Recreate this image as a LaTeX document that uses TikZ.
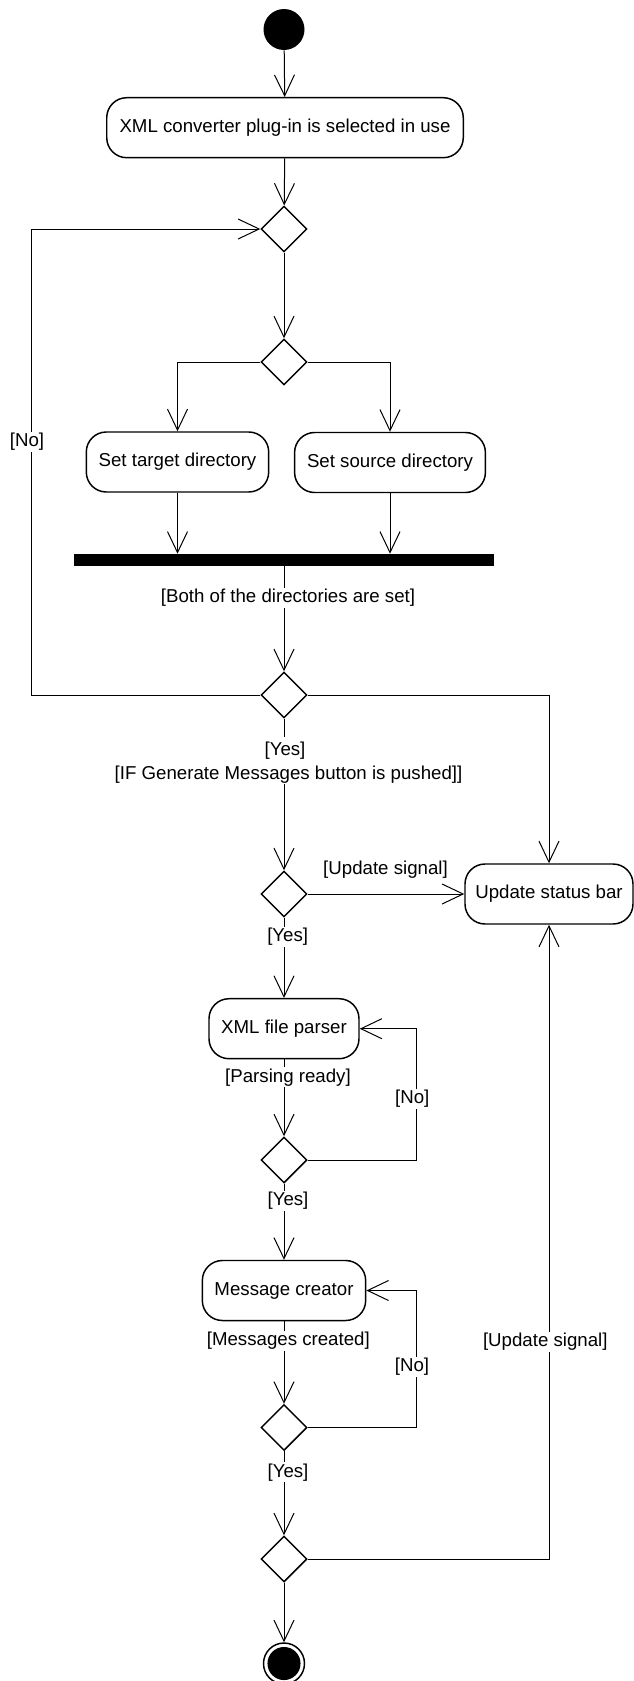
\documentclass[tikz,border=0pt]{standalone}
\usepackage{fontspec}
\setmainfont{Liberation Sans}
\usetikzlibrary{arrows.meta,shapes.geometric}

\begin{document}
\begin{tikzpicture}[x=0.75pt,y=-0.75pt,
  font=\fontsize{14}{16}\selectfont,
  flow/.style={line width=0.75pt},
  arr/.style={flow,-{Straight Barb[length=15.75pt,width=15pt,line width=0.75pt]}},
  act/.style={draw,line width=1.1pt,rounded corners=15pt,minimum height=45pt,inner sep=0pt,align=center},
  dec/.style={draw,diamond,aspect=1,minimum size=34.5pt,inner sep=0pt,line width=1.1pt},
  guard/.style={fill=white,inner sep=1pt},
]
\useasboundingbox (0,0) rectangle (634,1681);

% activity nodes
\node[circle,fill=black,minimum size=30.75pt,inner sep=0pt] (start) at (284,29.5) {};
\node[act,minimum width=267.4pt] (sel) at (285,127.7) {XML converter plug-in is selected in use};
\node[dec] (d1) at (284,229) {};
\node[dec] (d2) at (284,362) {};
\node[act,minimum width=136.8pt] (tgt) at (177.5,462) {Set target directory};
\node[act,minimum width=143.1pt] (src) at (390,462.5) {Set source directory};
\node[fill=black,minimum width=315.4pt,minimum height=9pt,inner sep=0pt] (bar) at (284,560) {};
\node[dec] (d3) at (284,695) {};
\node[act,minimum width=126pt] (stat) at (549,894) {Update status bar};
\node[dec] (d4) at (284,894) {};
\node[act,minimum width=112.5pt] (parse) at (284,1028.7) {XML file parser};
\node[dec] (d5) at (284,1160) {};
\node[act,minimum width=122.5pt] (create) at (284,1290.5) {Message creator};
\node[dec] (d6) at (284,1427.5) {};
\node[dec] (d7) at (284,1559) {};
\node[circle,draw,line width=1.1pt,minimum size=30.75pt,inner sep=0pt] (stop) at (284,1663.5) {};
\fill (stop.center) circle[radius=12.4pt];

% bends of the loops
\coordinate (lx3) at (31,695);
\coordinate (lx1) at (31,229);
\coordinate (rx5) at (416.7,1160);
\coordinate (rx6) at (416.7,1427.5);

% control flow
\draw[arr] (start) -- (sel);
\draw[arr] (sel) -- (d1);
\draw[arr] (d1) -- (d2);
\draw[arr] (d2.west) -| (tgt.north);
\draw[arr] (d2.east) -| (src.north);
\draw[arr] (tgt.south) -- (tgt.south |- bar.north);
\draw[arr] (src.south) -- (src.south |- bar.north);
\draw[arr] (bar.south) -- (d3.north);
\draw[arr] (d3.west) -- (lx3) -- (lx1) -- (d1.west);
\draw[arr] (d3.east) -| (stat.north);
\draw[arr] (d3.south) -- (d4.north);
\draw[arr] (d4.east) -- (stat.west);
\draw[arr] (d4.south) -- (parse.north);
\draw[arr] (parse.south) -- (d5.north);
\draw[arr] (d5.east) -- (rx5) |- (parse.east);
\draw[arr] (d5.south) -- (create.north);
\draw[arr] (create.south) -- (d6.north);
\draw[arr] (d6.east) -- (rx6) |- (create.east);
\draw[arr] (d6.south) -- (d7.north);
\draw[arr] (d7.east) -| (stat.south);
\draw[arr] (d7.south) -- (stop.north);

% guards
\node[guard] (gno) at (27,442) {[No]};
\node[guard] (gboth) at (288,598) {[Both of the directories are set]};
\node[guard,inner ysep=4pt] (gyes1) at (285,751) {[Yes]};
\node[guard] (gif) at (288.5,774.3) {[IF Generate Messages button is pushed]]};
\node (gupd1) at (385.5,869.3) {[Update signal]};
\node[guard] (gyes2) at (287.7,937) {[Yes]};
\node[guard] (gpars) at (288,1077.3) {[Parsing ready]};
\node[guard] (gno2) at (412.3,1099) {[No]};
\node[guard] (gyes3) at (288,1200.7) {[Yes]};
\node[guard] (gmsg) at (288.3,1340.7) {[Messages created]};
\node[guard] (gno3) at (412,1366.7) {[No]};
\node[guard] (gyes4) at (288,1472.3) {[Yes]};
\node[guard] (gupd2) at (545.3,1341.7) {[Update signal]};
\end{tikzpicture}
\end{document}
